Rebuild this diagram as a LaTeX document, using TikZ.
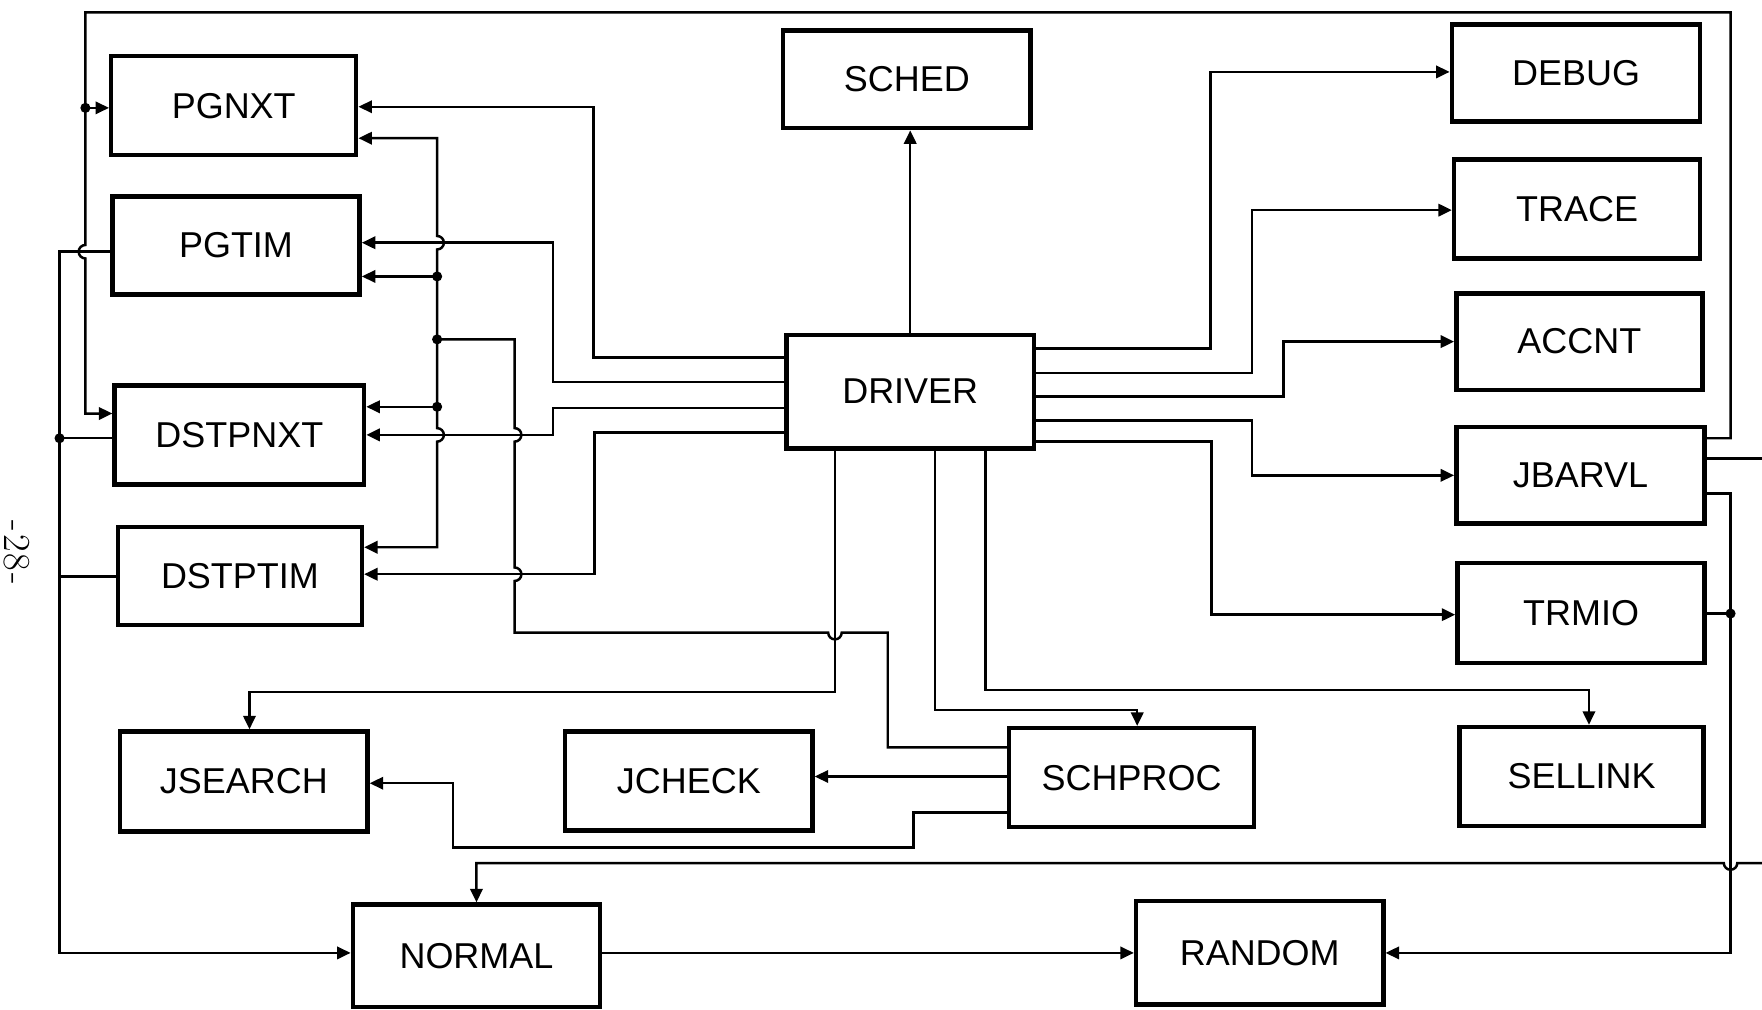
\documentclass[tikz,border=0pt]{standalone}
\usepackage{fontspec}
\newfontfamily\boxfont{Liberation Sans}
\usetikzlibrary{arrows.meta,calc}
\begin{document}
\begin{tikzpicture}[x=0.5pt,y=-0.5pt,
  box/.style={draw,line width=2pt,inner sep=0pt,font=\boxfont\fontsize{16}{18}\selectfont},
  conn/.style={line width=1.1pt},
  >={Triangle[length=6pt,width=5.5pt]},
  dot/.style={circle,fill,inner sep=0pt,minimum size=4.5pt}]
\useasboundingbox (0,0) rectangle (1568,898);

% boxes
\node[box,minimum width=109pt,minimum height=44pt] (PGNXT) at (208,94) {PGNXT};
\node[box,minimum width=110pt,minimum height=43.5pt] (PGTIM) at (210,218.5) {PGTIM};
\node[box,minimum width=111pt,minimum height=44pt] (DSTPNXT) at (213,387) {DSTPNXT};
\node[box,minimum width=108.5pt,minimum height=43.5pt] (DSTPTIM) at (213.5,512.5) {DSTPTIM};
\node[box,minimum width=110pt,minimum height=43.5pt] (SCHED) at (807,70.5) {SCHED};
\node[box,minimum width=110pt,minimum height=50.5pt] (DRIVER) at (810,348.5) {DRIVER};
\node[box,minimum width=110.5pt,minimum height=43pt] (DEBUG) at (1402.5,65) {DEBUG};
\node[box,minimum width=109.5pt,minimum height=44pt] (TRACE) at (1403.5,186) {TRACE};
\node[box,minimum width=109.5pt,minimum height=43pt] (ACCNT) at (1405.5,304) {ACCNT};
\node[box,minimum width=110.5pt,minimum height=43pt] (JBARVL) at (1406.5,423) {JBARVL};
\node[box,minimum width=110pt,minimum height=44.5pt] (TRMIO) at (1407,545.5) {TRMIO};
\node[box,minimum width=110pt,minimum height=44.5pt] (JSEARCH) at (217,695.5) {JSEARCH};
\node[box,minimum width=110pt,minimum height=44pt] (JCHECK) at (613,695) {JCHECK};
\node[box,minimum width=109pt,minimum height=44pt] (SCHPROC) at (1007,692) {SCHPROC};
\node[box,minimum width=108.5pt,minimum height=44pt] (SELLINK) at (1407.5,691) {SELLINK};
\node[box,minimum width=110pt,minimum height=45.5pt] (NORMAL) at (424,850.5) {NORMAL};
\node[box,minimum width=110pt,minimum height=46pt] (RANDOM) at (1121,848) {RANDOM};

% page number
\node[rotate=-90,font=\fontsize{17}{19}\selectfont] (pg) at (15,492) {-\hspace{1pt}2\hspace{1pt}8\hspace{1pt}-};

% junction dots
\node[dot] (jA) at (76,96) {};
\node[dot] (jB) at (53,390) {};
\coordinate (jC) at (53,513);
\node[dot] (jD) at (389,246) {};
\node[dot] (jE) at (389,302) {};
\node[dot] (jF) at (389,362) {};
\node[dot] (jG) at (1540,546) {};

% JBARVL -> frame -> PGNXT, DSTPNXT
\draw[conn,->] (JBARVL.east |- 0,390) -- (1540,390) -- (1540,11) -- (76,11) -- (76,218)
  arc[start angle=90,end angle=270,radius=3pt] -- (76,368) -- (DSTPNXT.west |- 0,368);
\draw[conn,->] (jA.center) -- (PGNXT.west |- jA);

% left line to NORMAL
\draw[conn,->] (PGTIM.west |- 0,224) -- (53,224) -- (53,848) -- (NORMAL.west |- 0,848);
\draw[conn] (DSTPNXT.west |- jB) -- (jB.center);
\draw[conn] (DSTPTIM.west |- jC) -- (jC);

% DRIVER left outputs
\draw[conn,->] (DRIVER.west |- 0,318) -- (528,318) -- (528,95) -- (PGNXT.east |- 0,95);
\draw[conn,->] (DRIVER.west |- 0,340) -- (492,340) -- (492,216) -- (PGTIM.east |- 0,216);
\draw[conn,->] (DRIVER.west |- 0,363) -- (492,363) -- (492,387) -- (DSTPNXT.east |- 0,387);
\draw[conn,->] (DRIVER.west |- 0,385) -- (529,385) -- (529,511) -- (DSTPTIM.east |- 0,511);

% bus from SCHPROC
\draw[conn,<->] (PGNXT.east |- 0,123) -- (389,123) -- (389,210)
  arc[start angle=90,end angle=-90,radius=3pt] -- (389,381)
  arc[start angle=90,end angle=-90,radius=3pt] -- (389,487) -- (DSTPTIM.east |- 0,487);
\draw[conn,->] (jD.center) -- (PGTIM.east |- jD);
\draw[conn,->] (jF.center) -- (DSTPNXT.east |- jF);
\draw[conn] (SCHPROC.west |- 0,665) -- (790,665) -- (790,563) -- (749,563)
  arc[start angle=0,end angle=-180,radius=3pt] -- (458,563) -- (458,517)
  arc[start angle=-90,end angle=90,radius=3pt] -- (458,393)
  arc[start angle=-90,end angle=90,radius=3pt] -- (458,302) -- (jE.center);

% DRIVER -> SCHED
\draw[conn,->] (DRIVER.north) -- (DRIVER.north |- SCHED.south);

% DRIVER right outputs
\draw[conn,->] (DRIVER.east |- 0,310) -- (1077,310) -- (1077,64) -- (DEBUG.west |- 0,64);
\draw[conn,->] (DRIVER.east |- 0,332) -- (1114,332) -- (1114,187) -- (TRACE.west |- 0,187);
\draw[conn,->] (DRIVER.east |- 0,353) -- (1142,353) -- (1142,304) -- (ACCNT.west |- 0,304);
\draw[conn,->] (DRIVER.east |- 0,374) -- (1114,374) -- (1114,423) -- (JBARVL.west |- 0,423);
\draw[conn,->] (DRIVER.east |- 0,393) -- (1078,393) -- (1078,547) -- (TRMIO.west |- 0,547);

% DRIVER bottom outputs
\draw[conn,->] (DRIVER.south -| 743,0) -- (743,616) -- (222,616) -- (JSEARCH.north -| 222,0);
\draw[conn,->] (DRIVER.south -| 832,0) -- (832,632) -- (1012,632) -- (SCHPROC.north -| 1012,0);
\draw[conn,->] (DRIVER.south -| 877,0) -- (877,614) -- (1414,614) -- (SELLINK.north -| 1414,0);

% SCHPROC -> JCHECK, JSEARCH
\draw[conn,->] (SCHPROC.west |- 0,691) -- (JCHECK.east |- 0,691);
\draw[conn,->] (SCHPROC.west |- 0,723) -- (813,723) -- (813,754) -- (403,754) -- (403,697) -- (JSEARCH.east |- 0,697);

% off-page -> NORMAL
\draw[conn,->] (1568,768) -- (1546,768) arc[start angle=0,end angle=-180,radius=3pt]
  -- (NORMAL.north |- 0,768) -- (NORMAL.north);

% NORMAL -> RANDOM
\draw[conn,->] (NORMAL.east |- 0,848) -- (RANDOM.west |- 0,848);

% JBARVL, TRMIO -> RANDOM
\draw[conn,->] (JBARVL.east |- 0,439) -- (1540,439) -- (1540,848) -- (RANDOM.east |- 0,848);
\draw[conn] (TRMIO.east |- jG) -- (jG.center);
\draw[conn] (JBARVL.east |- 0,408) -- (1568,408);
\end{tikzpicture}
\end{document}
